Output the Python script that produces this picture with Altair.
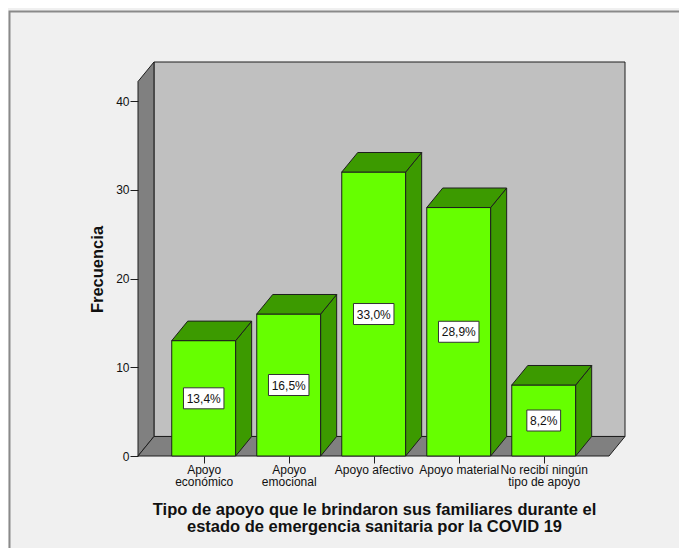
import altair as alt
import pandas as pd

# ---- data ----
categories = ["Apoyo económico", "Apoyo emocional", "Apoyo afectivo",
              "Apoyo material", "No recibí ningún tipo de apoyo"]
tick_labels = [["Apoyo", "económico"], ["Apoyo", "emocional"], ["Apoyo afectivo"],
               ["Apoyo material"], ["No recibí ningún", "tipo de apoyo"]]
frequencies = [13, 16, 32, 28, 8]
percents = [13.4, 16.5, 33.0, 28.9, 8.2]

# ---- geometry of the pseudo-3D frame (data units) ----
XMIN, XMAX = -0.773, 4.956
YMAX = 44.4
DX = 0.188   # depth along x
DY = 2.2     # depth along y
HW = 0.376   # half bar width

FONT = "Liberation Sans"
FRONT = "#66ff00"
DARK = "#3c9a00"
EDGE = "#1e1e1e"

df = pd.DataFrame({
    "idx": list(range(len(categories))),
    "cat": categories,
    "freq": frequencies,
    "pct": percents,
})

xs = alt.Scale(domain=[XMIN, XMAX], nice=False, zero=False)
ys = alt.Scale(domain=[0, YMAX], nice=False, zero=True)

label_map = "{" + ",".join(
    f"'{i}': [" + ",".join(f"'{s}'" for s in lines) + "]"
    for i, lines in enumerate(tick_labels)) + "}"

x_axis = alt.Axis(
    values=list(range(len(categories))),
    labelExpr=f"{label_map}[datum.value + '']",
    domain=False, grid=False, tickColor=EDGE, tickSize=7, labelPadding=1,
    labelFont=FONT, labelFontSize=12, labelColor="#111", labelLineHeight=12.5,
    labelBaseline="top", zindex=1,
    title=["Tipo de apoyo que le brindaron sus familiares durante el",
           "estado de emergencia sanitaria por la COVID 19"],
    titleFont=FONT, titleFontSize=16.5, titleFontWeight="bold", titleColor="#111",
    titleLineHeight=17, titleX=236, titleY=45, titleAlign="center",
    titleBaseline="top",
)
y_axis = alt.Axis(
    values=[0, 10, 20, 30, 40], domain=False, grid=False,
    tickColor=EDGE, tickSize=8, labelPadding=1, zindex=1,
    labelFont=FONT, labelFontSize=12, labelColor="#111",
    title="Frecuencia", titleFont=FONT, titleFontSize=16.5,
    titleFontWeight="bold", titleColor="#111",
    titleX=-41, titleY=207, titleAngle=270, titleAlign="center",
    titleBaseline="middle",
)

# outer frame (decoration)
frame = alt.Chart(pd.DataFrame({"a": [0]})).mark_rect(
    fill="transparent", stroke="#8a8a8a", strokeWidth=2
).encode(x=alt.value(-128.5), x2=alt.value(700), y=alt.value(-50.5), y2=alt.value(600))

base = alt.Chart(df)

back_wall = alt.Chart(pd.DataFrame({"a": [0]})).mark_rect(
    fill="#c0c0c0", stroke=EDGE, strokeWidth=1
).encode(
    x=alt.datum(XMIN + DX, type="quantitative", scale=xs, axis=x_axis),
    x2=alt.datum(XMAX),
    y=alt.datum(DY, type="quantitative", scale=ys, axis=y_axis),
    y2=alt.datum(YMAX),
)

side_wall = alt.Chart(pd.DataFrame({
    "x": [XMIN, XMIN + DX], "y": [0, DY], "y2": [YMAX - DY, YMAX]
})).mark_area(orient="vertical", fill="#808080", stroke=EDGE, strokeWidth=1,
              opacity=1, interpolate="linear").encode(
    x=alt.X("x:Q", scale=xs), y=alt.Y("y:Q", scale=ys, stack=None), y2="y2:Q")

floor = alt.Chart(pd.DataFrame({
    "y": [0, DY], "x": [XMIN, XMIN + DX], "x2": [XMAX - DX, XMAX]
})).mark_area(orient="horizontal", fill="#808080", stroke=EDGE, strokeWidth=1,
              opacity=1).encode(
    y=alt.Y("y:Q", scale=ys), x=alt.X("x:Q", scale=xs, stack=None), x2="x2:Q")

front = base.transform_calculate(
    xl=f"datum.idx - {HW}", xr=f"datum.idx + {HW}"
).mark_rect(fill=FRONT, stroke=EDGE, strokeWidth=1).encode(
    x=alt.X("xl:Q", scale=xs), x2="xr:Q",
    y=alt.Y("freq:Q", scale=ys), y2=alt.datum(0),
)

folded = base.transform_calculate(k0="0", k1="1").transform_fold(
    ["k0", "k1"], as_=["kk", "k"])

side = folded.transform_calculate(
    sx=f"datum.idx + {HW} + datum.k * {DX}",
    sy=f"datum.k * {DY}",
    sy2=f"datum.freq + datum.k * {DY}",
).mark_area(orient="vertical", fill=DARK, stroke=EDGE, strokeWidth=1, opacity=1).encode(
    x=alt.X("sx:Q", scale=xs), y=alt.Y("sy:Q", scale=ys, stack=None), y2="sy2:Q",
    detail="idx:N",
)

top = folded.transform_calculate(
    ty=f"datum.freq + datum.k * {DY}",
    tx=f"datum.idx - {HW} + datum.k * {DX}",
    tx2=f"datum.idx + {HW} + datum.k * {DX}",
).mark_area(orient="horizontal", fill=DARK, stroke=EDGE, strokeWidth=1, opacity=1).encode(
    y=alt.Y("ty:Q", scale=ys), x=alt.X("tx:Q", scale=xs, stack=None), x2="tx2:Q",
    detail="idx:N",
)

labelled = base.transform_calculate(
    lab="replace(format(datum.pct, '.1f'), '.', ',') + '%'",
    mid="datum.freq / 2",
).transform_calculate(
    w="6.7 * length(datum.lab) + 7",
).transform_calculate(
    shp="'M-1,-' + (21 / datum.w) + 'H1V' + (21 / datum.w) + 'H-1Z'",
    sz="datum.w * datum.w",
)

boxes = labelled.mark_point(filled=True, fill="white", stroke="#333",
                            strokeWidth=1, opacity=1).encode(
    x=alt.X("idx:Q", scale=xs), y=alt.Y("mid:Q", scale=ys),
    shape=alt.Shape("shp:N", scale=None, legend=None),
    size=alt.Size("sz:Q", scale=None, legend=None),
)

texts = labelled.mark_text(font=FONT, fontSize=12, color="#111",
                           baseline="middle", align="center", dy=0.5).encode(
    x=alt.X("idx:Q", scale=xs), y=alt.Y("mid:Q", scale=ys), text="lab:N",
)

chart = alt.layer(
    frame, back_wall, side_wall, floor, front, side, top, boxes, texts
).properties(
    width=487, height=394,
    autosize=alt.AutoSizeParams(type="none"),
    padding={"left": 130, "top": 54, "right": 54, "bottom": 92},
).configure(background="#f0f0f0").configure_view(stroke=None)

chart.save("out.html", embed_options={"renderer": "svg", "actions": False})
